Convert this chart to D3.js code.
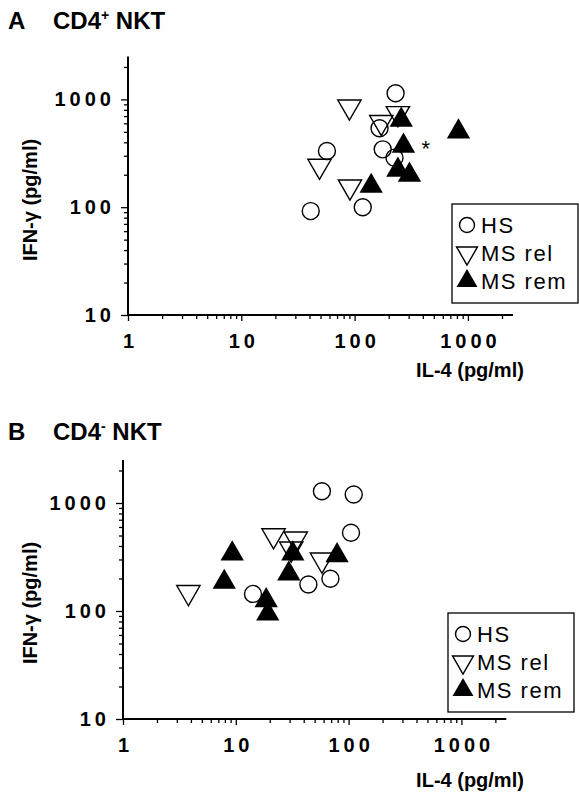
<!DOCTYPE html>
<html>
<head>
<meta charset="utf-8">
<script src="https://cdn.jsdelivr.net/npm/d3@7"></script>
<style>
  body { margin: 0; background: #fff; }
  svg { display: block; font-family: "Liberation Sans", Arial, sans-serif; }
  .tick-label { font-weight: bold; font-size: 20px; letter-spacing: 4px; }
  .axis-label { font-weight: bold; font-size: 20px; }
  .title { font-weight: bold; font-size: 24px; }
  .legend-text { font-size: 22px; letter-spacing: 1.5px; }
</style>
</head>
<body>
<svg id="chart" width="579" height="799"></svg>
<script>
// tick values
const xMajor = [1, 10, 100, 1000]
const yMajor = [10, 100, 1000]
const legendNames = ["HS", "MS rel", "MS rem"]

// panel A: CD4+ NKT, [IL-4, IFN-gamma] in pg/ml
const aHS = [[230, 1140], [166, 540], [177, 344], [225, 288], [57, 332], [41, 92], [118, 100]]
const aRel = [[90, 855], [49, 241], [91, 155], [172, 614], [241, 743]]
const aRem = [[258, 644], [270, 370], [241, 221], [305, 199], [140, 157], [826, 501]]

// panel B: CD4- NKT
const bHS = [[58, 1285], [111, 1200], [105, 530], [69, 199], [44, 176], [14.2, 144]]
const bRel = [[3.8, 149], [21.6, 500], [34, 467], [31, 377], [58, 298]]
const bRem = [[9.3, 339], [7.9, 185], [32, 339], [29.5, 221], [18.6, 125], [19.2, 94], [79, 327]]

let svg = d3.select("#chart")

function minorTicks(lo, hi) {
    let out = []
    for (let d = lo; d < hi; d *= 10) {
        for (let k = 2; k <= 9; k++) out.push(d * k)
    }
    out.push(hi * 2)
    return out
}

function drawPanel(cfg) {
    let g = svg.append("g")

    let x = d3.scaleLog().domain([1, 2500]).range([cfg.x0, cfg.x0 + 3.398 * cfg.xDec])
    let y = d3.scaleLog().domain([10, 2500]).range([cfg.y0, cfg.y0 - 2.398 * cfg.yDec])

    // title
    let t = g.append("text").attr("class", "title").attr("y", cfg.titleY)
    t.append("tspan").attr("x", 8).text(cfg.letter)
    t.append("tspan").attr("x", 53).text("CD4")
    t.append("tspan").attr("dy", -9).style("font-size", "14px").text(cfg.sign)
    t.append("tspan").attr("dy", 9).text(" NKT")

    // y axis
    let yAxisG = g.append("g").attr("transform", `translate(${cfg.x0},0)`)
    yAxisG.append("g")
        .call(d3.axisLeft(y).tickValues(minorTicks(10, 1000)).tickSize(4).tickFormat(""))
    yAxisG.append("g")
        .call(d3.axisLeft(y).tickValues(yMajor).tickSize(7).tickPadding(6).tickFormat(d3.format("d")))
    yAxisG.selectAll("text").attr("class", "tick-label").attr("fill", "#000")

    // x axis
    let xAxisG = g.append("g").attr("transform", `translate(0,${cfg.y0})`)
    xAxisG.append("g")
        .call(d3.axisBottom(x).tickValues(minorTicks(1, 1000)).tickSize(4).tickFormat(""))
    xAxisG.append("g")
        .call(d3.axisBottom(x).tickValues(xMajor).tickSize(6).tickPadding(13).tickFormat(d3.format("d")))
    xAxisG.selectAll("text").attr("class", "tick-label").attr("fill", "#000").attr("dx", 2)

    svg.selectAll(".domain").remove()
    g.selectAll(".tick line").attr("stroke", "#000").attr("stroke-width", 1.3)

    // axis lines
    g.append("line")
        .attr("x1", cfg.x0).attr("x2", cfg.x0)
        .attr("y1", y(10) + 1).attr("y2", y(2500))
        .attr("stroke", "#000").attr("stroke-width", 2)
    g.append("line")
        .attr("x1", x(1) - 1).attr("x2", x(2500))
        .attr("y1", cfg.y0).attr("y2", cfg.y0)
        .attr("stroke", "#000").attr("stroke-width", 2)

    // axis labels
    g.append("text")
        .attr("class", "axis-label")
        .attr("transform", `translate(37,${cfg.yLabelY}) rotate(-90)`)
        .attr("text-anchor", "middle")
        .text("IFN-γ (pg/ml)")
    g.append("text")
        .attr("class", "axis-label")
        .attr("x", 470).attr("y", cfg.xLabelY)
        .attr("text-anchor", "middle")
        .text("IL-4 (pg/ml)")

    // points
    let up = d3.symbol().type(d3.symbolTriangle).size(235)

    g.selectAll(".hs")
        .data(cfg.hs)
        .enter()
        .append("circle")
        .attr("cx", function (d) { return x(d[0]) })
        .attr("cy", function (d) { return y(d[1]) })
        .attr("r", 8.5)
        .attr("fill", "none")
        .attr("stroke", "#000")
        .attr("stroke-width", 1.4)

    g.selectAll(".rel")
        .data(cfg.rel)
        .enter()
        .append("path")
        .attr("d", up)
        .attr("transform", function (d) { return `translate(${x(d[0])},${y(d[1])}) rotate(180)` })
        .attr("fill", "none")
        .attr("stroke", "#000")
        .attr("stroke-width", 1.4)

    g.selectAll(".rem")
        .data(cfg.rem)
        .enter()
        .append("path")
        .attr("d", up)
        .attr("transform", function (d) { return `translate(${x(d[0])},${y(d[1])})` })
        .attr("fill", "#000")

    if (cfg.star) {
        g.append("text")
            .attr("x", x(cfg.star[0]) + 18).attr("y", y(cfg.star[1]) + 10)
            .style("font-size", "22px")
            .text("*")
    }

    // legend
    let lg = g.append("g").attr("transform", `translate(${cfg.legX},${cfg.legY})`)
    lg.append("rect")
        .attr("x", 0).attr("y", 0).attr("width", 126).attr("height", 99)
        .attr("fill", "#fff").attr("stroke", "#000").attr("stroke-width", 1.3)
    let legendSym = [
        function (s) { s.append("circle").attr("r", 7.5).attr("fill", "none").attr("stroke", "#000").attr("stroke-width", 1.4) },
        function (s) { s.append("path").attr("d", d3.symbol().type(d3.symbolTriangle).size(190)).attr("transform", "rotate(180)").attr("fill", "none").attr("stroke", "#000").attr("stroke-width", 1.4) },
        function (s) { s.append("path").attr("d", d3.symbol().type(d3.symbolTriangle).size(190)).attr("fill", "#000") }
    ]
    legendNames.forEach(function (name, i) {
        let row = lg.append("g").attr("transform", `translate(15,${21 + i * 28})`)
        legendSym[i](row)
        row.append("text").attr("class", "legend-text").attr("x", 14).attr("y", 8).text(name)
    })
}

drawPanel({
    letter: "A", sign: "+", titleY: 29,
    x0: 128, xDec: 113.3, y0: 315, yDec: 107.8,
    yLabelY: 200, xLabelY: 377,
    hs: aHS, rel: aRel, rem: aRem, star: [270, 370],
    legX: 452, legY: 204
})

drawPanel({
    letter: "B", sign: "-", titleY: 440,
    x0: 123, xDec: 112.8, y0: 719, yDec: 108,
    yLabelY: 603, xLabelY: 787,
    hs: bHS, rel: bRel, rem: bRem, star: null,
    legX: 448, legY: 613
})
</script>
</body>
</html>
